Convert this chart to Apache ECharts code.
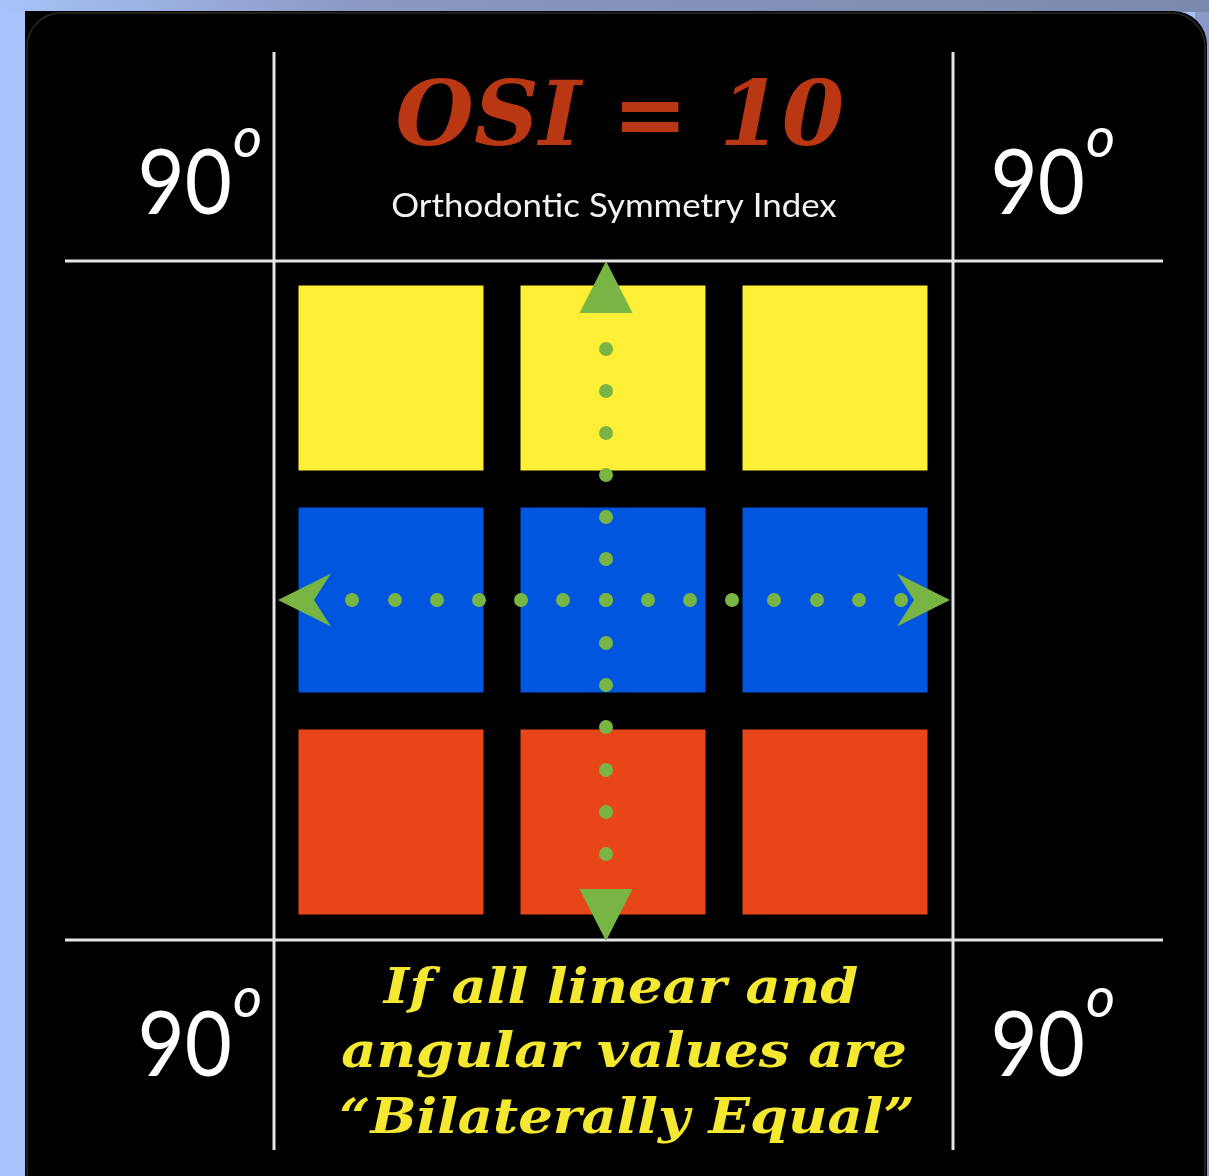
<!DOCTYPE html>
<html><head><meta charset="utf-8">
<script src="https://cdn.jsdelivr.net/npm/echarts@6/dist/echarts.min.js"></script>
<style>html,body{margin:0;padding:0;background:#a7c3f9;overflow:hidden}#c{width:1209px;height:1176px}</style>
</head><body><div id="c"></div>
<script>
// ---- data ----
const rowNames = ['top', 'middle', 'bottom'];
const columnNames = ['left', 'centre', 'right'];
const cellCentres = [111, 333, 555];            // centres of the 3x3 cells (grid units)
const horizontalDotsX = [72, 115, 157, 199, 241, 283, 326, 368, 410, 452, 494, 537, 579, 621];
const verticalDotsY = [82, 124, 166, 208, 250, 292, 333, 376, 418, 460, 503, 545, 587];
const symmetryAxisX = 326;
const symmetryAxisY = 333;
const arrowEnds = { up: 20, down: 648, left: 24.5, right: 643.5 };
const dividerPositions = [-6, 673];
const dividerExtent = [-215, 883];
const cornerAngle = '90';
const titleText = 'OSI = 10';
const subtitleText = 'Orthodontic Symmetry Index';
const footerLines = ['If all linear and', 'angular values are', '\u201cBilaterally Equal\u201d'];

// ---- styles ----
const rowColours = { top: '#FFEE36', middle: '#0056DE', bottom: '#E84619' };
const green = '#78B544';
const arrowPath = 'path://M50,0 L100,100 L50,68 L0,100 Z';

const squares = [];
rowNames.forEach((r, ri) => columnNames.forEach((c, ci) => {
  squares.push({ value: [cellCentres[ci], cellCentres[ri]], itemStyle: { color: rowColours[r], opacity: 1 } });
}));

const dividerSeries = [];
dividerPositions.forEach(p => {
  dividerSeries.push({ type: 'line', data: [[p, dividerExtent[0]], [p, dividerExtent[1]]] });
  dividerSeries.push({ type: 'line', data: [[dividerExtent[0], p], [dividerExtent[1], p]] });
});
dividerSeries.forEach(s => Object.assign(s, {
  xAxisIndex: 1, yAxisIndex: 1,
  symbol: 'none', clip: false, silent: true, z: 1,
  lineStyle: { color: '#e4e4e4', width: 3 }
}));

const dots = horizontalDotsX.map(x => [x, symmetryAxisY]).concat(verticalDotsY.map(y => [symmetryAxisX, y]));

function corner(xr, yDigitsMid, yO) {
  return [
    { type: 'text', z: 10, x: xr, y: yDigitsMid, scaleX: 0.885,
      style: { x: 0, y: 0, text: cornerAngle, align: 'right', verticalAlign: 'middle', fill: '#fff', font: '92px Lato' } },
    { type: 'text', z: 10, style: { x: xr + 1, y: yO, text: 'o', align: 'left', verticalAlign: 'middle', fill: '#fff', font: 'italic 56px Lato' } }
  ];
}
function footer(i, x, y) {
  return { type: 'text', z: 10, x: x, y: y, scaleX: 1.11,
    style: { x: 0, y: 0, text: footerLines[i], align: 'center', verticalAlign: 'middle', fill: '#F4E830', font: 'italic bold 49px "DejaVu Serif"' } };
}

const option = {
  backgroundColor: 'transparent',
  animation: false,
  grid: [
    { left: 280, top: 267, width: 666, height: 666, show: false },
    { left: 65, top: 52, width: 1098, height: 1098, show: false }
  ],
  xAxis: [
    { type: 'value', min: 0, max: 666, show: false, gridIndex: 0 },
    { type: 'value', min: -215, max: 883, show: false, gridIndex: 1 }
  ],
  yAxis: [
    { type: 'value', min: 0, max: 666, inverse: true, show: false, gridIndex: 0 },
    { type: 'value', min: -215, max: 883, inverse: true, show: false, gridIndex: 1 }
  ],
  graphic: [
    { type: 'rect', z: -10, shape: { x: 0, y: 0, width: 1209, height: 1176 }, style: { fill: '#a7c3f9' } },
    { type: 'rect', z: -10, shape: { x: 0, y: 0, width: 1209, height: 12 },
      style: { fill: new echarts.graphic.LinearGradient(0, 0, 1, 0, [
        { offset: 0, color: '#a7c3f9' }, { offset: 0.3, color: '#8a98c2' }, { offset: 1, color: '#7b89ad' }]) } },
    { type: 'rect', z: -10, shape: { x: 1195, y: 12, width: 14, height: 1164 }, style: { fill: '#8a9ac8' } },
    { type: 'rect', z: -9, shape: { x: 25, y: 11, width: 1182, height: 1180, r: [0, 34, 0, 0] }, style: { fill: '#000' } },
    { type: 'rect', z: -8, shape: { x: 27, y: 13, width: 1178, height: 1190, r: 34 }, style: { fill: 'none', stroke: '#2a2a2a', lineWidth: 1.5 } },
    ...corner(232, 184, 139),
    ...corner(1085, 184, 139),
    ...corner(232, 1046, 999),
    ...corner(1085, 1046, 999),
    { type: 'text', z: 10, style: { x: 620, y: 122, text: titleText, align: 'center', verticalAlign: 'middle', fill: '#BA3713', font: 'italic bold 90px "DejaVu Serif"' } },
    { type: 'text', z: 10, x: 614, y: 207, scaleX: 1.09,
      style: { x: 0, y: 0, text: subtitleText, align: 'center', verticalAlign: 'middle', fill: '#f2f2f2', font: '32px Lato' } },
    footer(0, 621, 990),
    footer(1, 624, 1054),
    footer(2, 627, 1120)
  ],
  series: [
    ...dividerSeries,
    { type: 'scatter', z: 2, clip: false, silent: true, symbol: 'rect', symbolSize: 185, data: squares },
    { type: 'scatter', z: 3, clip: false, silent: true, symbol: 'circle', symbolSize: 14, itemStyle: { color: green, opacity: 1 }, data: dots },
    { type: 'scatter', z: 4, clip: false, silent: true, itemStyle: { color: green, opacity: 1 }, data: [
      { value: [symmetryAxisX, arrowEnds.up], symbol: 'triangle', symbolSize: [53, 52] },
      { value: [symmetryAxisX, arrowEnds.down], symbol: 'triangle', symbolSize: [53, 52], symbolRotate: 180 },
      { value: [arrowEnds.left, symmetryAxisY], symbol: arrowPath, symbolKeepAspect: false, symbolSize: [53, 53], symbolRotate: 90 },
      { value: [arrowEnds.right, symmetryAxisY], symbol: arrowPath, symbolKeepAspect: false, symbolSize: [53, 53], symbolRotate: -90 }
    ] }
  ]
};
const chart = echarts.init(document.getElementById('c'), null, { renderer: 'canvas' });
chart.setOption(option);
</script>
</body></html>
